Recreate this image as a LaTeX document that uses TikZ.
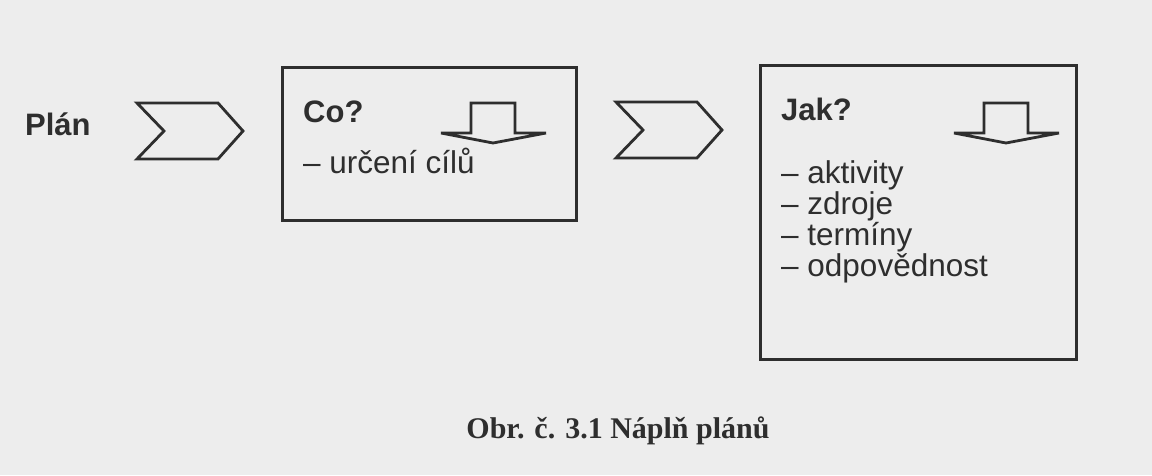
\documentclass[tikz,border=0pt]{standalone}
\usepackage{fontspec}
\setmainfont{Liberation Sans}
\newfontfamily\capfont{Liberation Serif}
\definecolor{ink}{HTML}{2E2E2E}
\definecolor{paper}{HTML}{EDEDED}
\begin{document}
\begin{tikzpicture}[x=1pt,y=-1pt,
  txt/.style={inner sep=0pt,anchor=base west,text=ink,font=\fontsize{31.5}{32}\selectfont},
  btxt/.style={txt,font=\fontsize{31}{32}\selectfont\bfseries},
  frame/.style={draw=ink,line width=2.8pt},
  shapeline/.style={draw=ink,line width=2.8pt,line join=miter},
  chev/.pic={\draw[shapeline] (0,0) -- (81,0) -- (106,28) -- (81,56) -- (0,56) -- (27,28) -- cycle;},
  darrow/.pic={\draw[shapeline] (-22,0) -- (-22,30) -- (-52,30) -- (0,40) -- (53,30) -- (22,30) -- (22,0) -- cycle;}
]
\fill[paper] (0,0) rectangle (1152,475);
\useasboundingbox (0,0) rectangle (1152,475);

\node[btxt] (plan) at (25,135) {Plán};
\pic at (137,103) {chev};
\coordinate (chev1) at (190,131);

\node[frame,minimum width=294pt,minimum height=153pt,anchor=north west,inner sep=0pt] (box1) at (281,66) {};
\node[btxt] (co) at (303,122) {Co?};
\node[txt] (cile) at (303,173) {– určení cílů};
\pic at (493,103) {darrow};

\pic at (616,102) {chev};
\coordinate (chev2) at (669,130);

\node[frame,minimum width=316pt,minimum height=294pt,anchor=north west,inner sep=0pt] (box2) at (759,64) {};
\node[btxt] (jak) at (781,120) {Jak?};
\pic at (1006,103) {darrow};
\node[txt] (l1) at (781,183) {– aktivity};
\node[txt] (l2) at (781,214) {– zdroje};
\node[txt] (l3) at (781,245) {– termíny};
\node[txt] (l4) at (781,276) {– odpovědnost};

\node[inner sep=0pt,anchor=base,text=ink,font=\capfont\fontsize{30}{31}\selectfont\bfseries] (caption) at (618,438) {Obr. č. 3.1 Náplň plánů};
\end{tikzpicture}
\end{document}
